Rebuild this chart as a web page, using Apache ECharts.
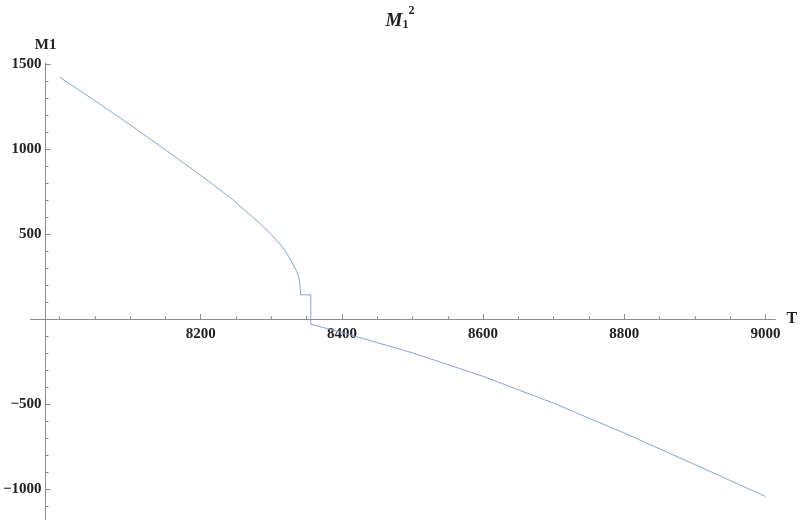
<!DOCTYPE html>
<html>
<head>
<meta charset="utf-8">
<script src="https://cdn.jsdelivr.net/npm/echarts@6/dist/echarts.min.js"></script>
<style>html,body{margin:0;padding:0;background:#fff;}#c{width:800px;height:520px;}</style>
</head>
<body>
<div id="c"></div>
<script>
// Data
var tValues = [8000, 8050, 8100, 8150, 8200, 8236, 8250, 8283, 8300, 8311, 8320, 8330, 8336, 8339, 8340.5, 8341.5, 8356, 8356,
  8400, 8450, 8500, 8550, 8600, 8650, 8700, 8750, 8800, 8850, 8900, 8950, 9000];
var m1Values = [1422, 1284, 1142, 995, 845, 733, 686, 565, 497, 447, 400, 330, 280, 248, 205, 143, 143, -30,
  -78, -138, -198, -267, -336, -415, -494, -582, -669, -762, -854, -948, -1042];
var xMajorTicks = [8200, 8400, 8600, 8800, 9000];
var xMinorTicks = [8000, 8050, 8100, 8150, 8250, 8300, 8350, 8450, 8500, 8550, 8650, 8700, 8750, 8850, 8900, 8950];
var yMajorTicks = [-1000, -500, 500, 1000, 1500];
var yMinorTicks = [-1100, -900, -800, -700, -600, -400, -300, -200, -100, 100, 200, 300, 400, 600, 700, 800, 900, 1100, 1200, 1300, 1400];
var xName = 'T';
var yName = 'M1';

var data = tValues.map(function (t, i) { return [t, m1Values[i]]; });
var serif = "'Liberation Serif', 'DejaVu Serif', serif";
var axisColor = '#8c8c8c';
var xMin = 7959, xMax = 9014, yMin = -1180, yMax = 1505;
var gridTop = 63, gridBottom = 0, H = 520;
// place the x axis where y = 0 lies inside the grid
var gridH = H - gridTop - gridBottom;
var zeroFromBottom = gridH * (0 - yMin) / (yMax - yMin);
var xOffset = -zeroFromBottom;

var chart = echarts.init(document.getElementById('c'), null, {renderer: 'canvas'});
chart.setOption({
  animation: false,
  backgroundColor: '#ffffff',
  title: {
    left: 'center',
    top: 0,
    text: '{m|M}{s|1}{p|2}',
    textStyle: {
      rich: {
        m: {fontFamily: serif, fontStyle: 'italic', fontWeight: 'bold', fontSize: 19, color: '#222', verticalAlign: 'bottom', lineHeight: 26},
        s: {fontFamily: serif, fontWeight: 'bold', fontSize: 12, color: '#222', verticalAlign: 'bottom', lineHeight: 22},
        p: {fontFamily: serif, fontWeight: 'bold', fontSize: 12, color: '#222', verticalAlign: 'top', lineHeight: 14}
      }
    }
  },
  grid: {left: 30, right: 20, top: gridTop, bottom: gridBottom, containLabel: false},
  xAxis: [{
    type: 'value', min: xMin, max: xMax, position: 'bottom', offset: xOffset,
    name: xName, nameLocation: 'end', nameGap: 4,
    nameTextStyle: {fontFamily: serif, fontWeight: 'bold', fontSize: 16, color: '#222', verticalAlign: 'middle'},
    axisLine: {show: true, onZero: false, lineStyle: {color: axisColor, width: 1}},
    axisTick: {show: true, inside: true, length: 5, customValues: xMajorTicks, lineStyle: {color: axisColor}},
    axisLabel: {show: true, customValues: xMajorTicks, margin: 7, fontFamily: serif, fontWeight: 'bold', fontSize: 15, color: '#222',
      formatter: function (v) { return String(v); }},
    splitLine: {show: false}
  }, {
    type: 'value', min: xMin, max: xMax, position: 'bottom', offset: xOffset,
    axisLine: {show: false, onZero: false},
    axisTick: {show: true, inside: true, length: 3, customValues: xMinorTicks, lineStyle: {color: axisColor}},
    axisLabel: {show: false},
    splitLine: {show: false}
  }],
  yAxis: [{
    type: 'value', min: yMin, max: yMax, position: 'left', offset: -15,
    name: yName, nameLocation: 'end', nameGap: 10,
    nameTextStyle: {fontFamily: serif, fontWeight: 'bold', fontSize: 15, color: '#222', align: 'center'},
    axisLine: {show: true, onZero: false, lineStyle: {color: axisColor, width: 1}},
    axisTick: {show: true, inside: true, length: 5, customValues: yMajorTicks, lineStyle: {color: axisColor}},
    axisLabel: {show: true, customValues: yMajorTicks, margin: 4, fontFamily: serif, fontWeight: 'bold', fontSize: 15, color: '#222',
      formatter: function (v) { return v < 0 ? '\u2212' + Math.abs(v) : String(v); }},
    splitLine: {show: false}
  }, {
    type: 'value', min: yMin, max: yMax, position: 'left', offset: -15,
    axisLine: {show: false, onZero: false},
    axisTick: {show: true, inside: true, length: 3, customValues: yMinorTicks, lineStyle: {color: axisColor}},
    axisLabel: {show: false},
    splitLine: {show: false}
  }],
  series: [{
    type: 'line',
    xAxisIndex: 0, yAxisIndex: 0,
    data: data,
    showSymbol: false,
    smooth: false,
    lineStyle: {color: '#8aa3cf', width: 1},
    silent: true
  }]
});
</script>
</body>
</html>
